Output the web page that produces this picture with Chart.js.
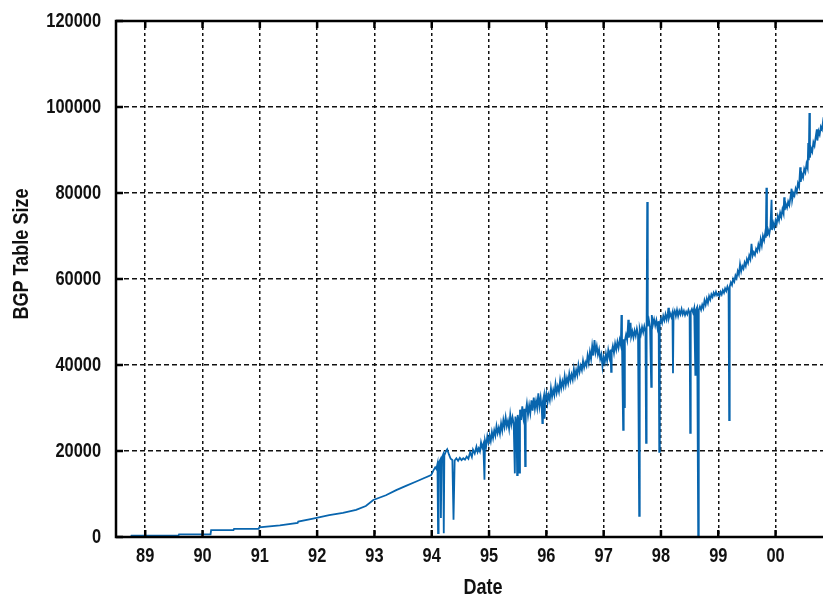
<!DOCTYPE html>
<html>
<head>
<meta charset="utf-8">
<title>BGP Table Size</title>
<script src="https://cdn.jsdelivr.net/npm/chart.js@4.4.1/dist/chart.umd.min.js"></script>
<style>
  html, body { margin: 0; padding: 0; background: #fff; overflow: hidden; }
  #wrap { width: 823px; height: 598px; overflow: hidden; }
</style>
</head>
<body>
<div id="wrap"><canvas id="bgp" width="836" height="598"></canvas></div>
<script>
// x axis in years (89 = 1989, 100 = 2000)
const yearTicks = [89, 90, 91, 92, 93, 94, 95, 96, 97, 98, 99, 100];
const yearLabels = ['89', '90', '91', '92', '93', '94', '95', '96', '97', '98', '99', '00'];
const sizeTicks = [0, 20000, 40000, 60000, 80000, 100000, 120000];

// dates (decimal years)
const dates = [
  88.49, 88.75, 88.76, 89.58, 89.59, 90.14, 90.15, 90.54, 90.55, 90.98,
  90.99, 91.35, 91.66, 91.67, 91.93, 92.21, 92.45, 92.68, 92.85, 92.98,
  93.20, 93.38, 93.55, 93.73, 93.85, 93.99, 94.03, 94.06, 94.08, 94.10,
  94.11, 94.12, 94.15, 94.16, 94.17, 94.20, 94.21, 94.22, 94.25, 94.27,
  94.30, 94.33, 94.36, 94.38,
  94.40, 94.43, 94.46, 94.49, 94.52, 94.55, 94.58, 94.61, 94.64, 94.67,
  94.70, 94.72, 94.75, 94.78, 94.80, 94.82, 94.84, 94.86, 94.88, 94.90,
  94.92, 94.93, 94.95, 94.97, 94.99, 95.01, 95.03, 95.05, 95.07, 95.09,
  95.11, 95.13, 95.15, 95.17, 95.19, 95.21, 95.23, 95.25, 95.27, 95.29,
  95.31, 95.33, 95.35, 95.37, 95.39, 95.41, 95.43, 95.45, 95.46, 95.48,
  95.49, 95.50, 95.52, 95.53, 95.54, 95.56, 95.58, 95.60, 95.62, 95.63,
  95.64, 95.66, 95.68, 95.70, 95.72, 95.74, 95.76, 95.78, 95.80, 95.82,
  95.84, 95.86, 95.88, 95.90, 95.92, 95.93, 95.94, 95.96, 95.97, 95.98,
  96.00, 96.02, 96.04, 96.06, 96.08, 96.10, 96.12, 96.14, 96.16, 96.18,
  96.20, 96.22, 96.24, 96.26, 96.28, 96.30, 96.32, 96.34, 96.36, 96.38,
  96.40, 96.42, 96.44, 96.46, 96.48, 96.50, 96.52, 96.54, 96.56, 96.58,
  96.60, 96.62, 96.64, 96.66, 96.68, 96.70, 96.72, 96.74, 96.76, 96.78,
  96.80, 96.82, 96.84, 96.86, 96.88, 96.90, 96.92, 96.94, 96.96, 96.98,
  97.00, 97.02, 97.04, 97.06, 97.08, 97.10, 97.12, 97.13, 97.14, 97.16,
  97.18, 97.20, 97.22, 97.24, 97.26, 97.28, 97.30, 97.31, 97.32, 97.34,
  97.35, 97.36, 97.37, 97.39, 97.41, 97.43, 97.44, 97.46, 97.47, 97.48,
  97.50, 97.52, 97.54, 97.56, 97.58, 97.60, 97.62, 97.63, 97.65, 97.67,
  97.69, 97.71, 97.73, 97.74, 97.75, 97.76, 97.77, 97.79, 97.81, 97.83,
  97.84, 97.86, 97.88, 97.90, 97.92, 97.94, 97.96, 97.97, 97.98, 98.00,
  98.02, 98.04, 98.06, 98.08, 98.10, 98.12, 98.13, 98.14, 98.16, 98.18,
  98.20, 98.21, 98.22, 98.24, 98.26, 98.28, 98.30, 98.32, 98.34, 98.36,
  98.38, 98.40, 98.42, 98.44, 98.46, 98.48, 98.50, 98.51, 98.52, 98.54,
  98.56, 98.58, 98.60, 98.61, 98.63, 98.65, 98.66, 98.68, 98.70, 98.72,
  98.74, 98.76, 98.78, 98.80, 98.82, 98.84, 98.86, 98.88, 98.90, 98.92,
  98.94, 98.96, 98.98, 99.00, 99.02, 99.04, 99.06, 99.08, 99.10, 99.12,
  99.14, 99.16, 99.18, 99.19, 99.20, 99.22, 99.24, 99.26, 99.28, 99.30,
  99.32, 99.34, 99.36, 99.38, 99.40, 99.42, 99.44, 99.46, 99.48, 99.50,
  99.52, 99.54, 99.56, 99.58, 99.60, 99.62, 99.64, 99.66, 99.68, 99.70,
  99.72, 99.74, 99.76, 99.78, 99.80, 99.82, 99.83, 99.84, 99.85, 99.87,
  99.89, 99.91, 99.93, 99.94, 99.96, 99.98, 100.00, 100.02, 100.04, 100.06,
  100.08, 100.10, 100.12, 100.14, 100.15, 100.16, 100.18, 100.20, 100.22, 100.24,
  100.26, 100.28, 100.29, 100.31, 100.33, 100.35, 100.37, 100.39, 100.41, 100.43,
  100.44, 100.46, 100.48, 100.50, 100.52, 100.54, 100.56, 100.57, 100.58, 100.59,
  100.60, 100.62, 100.64, 100.66, 100.68, 100.70, 100.72, 100.73, 100.75, 100.77,
  100.79, 100.81, 100.83, 100.85, 100.87
];

// BGP table size at each date
const tableSize = [
  0, 0, 300, 300, 600, 600, 1600, 1600, 1900, 1900,
  2250, 2700, 3300, 3600, 4300, 5100, 5600, 6300, 7200, 8600,
  9700, 10900, 11900, 12900, 13600, 14400, 15500, 16200, 15800, 17000,
  900, 17200, 18000, 4400, 18200, 19200, 900, 19000, 20000, 20400,
  19200, 18200, 17900, 4000,
  17800, 18300, 17700, 18400, 17900, 18300, 18000, 18700, 18200, 19700,
  18600, 20300, 19400, 21000, 19800, 20600, 19900, 22000, 20800, 21600,
  13300, 22400, 21200, 23400, 22000, 23600, 22300, 24400, 23000, 24800,
  23600, 25800, 24200, 25400, 24000, 26400, 24800, 27200, 25600, 27800,
  25800, 27000, 25200, 28400, 26200, 27800, 26400, 14800, 28000, 26600,
  14400, 28400, 26800, 15000, 29600, 27200, 30400, 27800, 29800, 16500,
  29000, 31000, 28400, 30600, 28800, 31800, 29400, 32400, 29800, 31600,
  30000, 33400, 30400, 32400, 29800, 26500, 31600, 33000, 27500, 32000,
  33400, 31200, 33000, 31800, 34600, 32600, 34200, 33000, 35600, 33600,
  35000, 33800, 36400, 34600, 36200, 35000, 37400, 35400, 37000, 35800,
  38000, 36400, 37800, 36600, 39000, 37200, 38800, 37600, 40000, 38400,
  39800, 38800, 41000, 39400, 40600, 39800, 42200, 40600, 43000, 41400,
  44400, 42200, 45800, 43000, 44400, 42400, 43600, 41400, 42400, 39600,
  41800, 40600, 42600, 41000, 43400, 41800, 43600, 38400, 43000, 44400,
  42800, 45000, 43600, 45400, 44000, 45800, 44600, 51600, 45400, 24900,
  46000, 30200, 45600, 47000, 45800, 50500, 46400, 47800, 49800, 46600,
  47800, 46400, 48000, 46800, 48400, 47000, 4900, 48400, 47200, 48800,
  47600, 49000, 47800, 21900, 50000, 77900, 49000, 50400, 48800, 34900,
  51600, 49400, 50600, 49200, 50400, 48600, 50200, 19800, 49600, 50800,
  49800, 51400, 50400, 51800, 50600, 52000, 53300, 51000, 52000, 51200,
  52200, 38100, 51800, 52600, 51400, 52800, 51400, 52600, 51800, 53000,
  51800, 52600, 51600, 52400, 51800, 52800, 52000, 24200, 52400, 53000,
  52200, 53200, 37700, 52800, 53400, 0, 52800, 53600, 52800, 54000,
  53200, 55000, 54000, 55400, 54400, 56000, 55200, 56400, 55800, 56800,
  56200, 57000, 56200, 56600, 56000, 57000, 56400, 57400, 56800, 57800,
  57200, 58200, 57400, 27200, 58200, 59200, 58600, 60000, 59400, 60800,
  60200, 61800, 61000, 63400, 61800, 63000, 62400, 63800, 63000, 64600,
  63800, 65400, 64600, 68200, 65400, 66200, 65600, 67000, 66400, 68000,
  67000, 69200, 67800, 70000, 69000, 70800, 69600, 81200, 70000, 71400,
  70400, 72000, 78400, 71400, 73000, 72000, 73600, 72800, 74600, 73600,
  75400, 74400, 76200, 75200, 79000, 76000, 77400, 76600, 78000, 77200,
  79000, 81000, 78400, 80000, 79400, 81000, 80200, 82200, 81400, 86000,
  82600, 84400, 83600, 85600, 84800, 86800, 85800, 91600, 87600, 98600,
  88200, 90400, 89600, 91800, 91000, 93000, 94800, 92200, 94400, 93600,
  95400, 94800, 96800, 96000, 97400
];

// no narrow sans is installed, so labels use Liberation Sans Bold squeezed sideways
function narrowText(ctx, text, x, y, size, align, rotate) {
  ctx.save();
  ctx.translate(x, y);
  if (rotate) ctx.rotate(-Math.PI / 2);
  ctx.scale(0.82, 1);
  ctx.font = 'bold ' + size + 'px "Liberation Sans", Arial, sans-serif';
  ctx.textAlign = align;
  ctx.textBaseline = 'middle';
  ctx.fillStyle = '#111';
  ctx.fillText(text, 0, 0);
  ctx.restore();
}

// solid frame with short inward tick marks, drawn over the line
const framePlugin = {
  id: 'frame',
  afterDatasetsDraw(chart) {
    const { ctx, chartArea: a, scales } = chart;
    const len = 7;
    ctx.save();
    ctx.strokeStyle = '#000';
    ctx.lineWidth = 2.5;
    ctx.strokeRect(a.left, a.top, a.right - a.left, a.bottom - a.top);
    ctx.beginPath();
    yearTicks.forEach(v => {
      const x = scales.x.getPixelForValue(v);
      ctx.moveTo(x, a.bottom); ctx.lineTo(x, a.bottom - len);
      ctx.moveTo(x, a.top); ctx.lineTo(x, a.top + len);
    });
    sizeTicks.forEach(v => {
      const y = scales.y.getPixelForValue(v);
      ctx.moveTo(a.left, y); ctx.lineTo(a.left + len, y);
      ctx.moveTo(a.right, y); ctx.lineTo(a.right - len, y);
    });
    ctx.stroke();
    ctx.restore();
  },
  afterDraw(chart) {
    const { ctx, chartArea: a, scales } = chart;
    yearTicks.forEach((v, i) => {
      narrowText(ctx, yearLabels[i], scales.x.getPixelForValue(v), a.bottom + 19, 20, 'center');
    });
    sizeTicks.forEach(v => {
      narrowText(ctx, String(v), a.left - 15, scales.y.getPixelForValue(v), 20, 'right');
    });
    narrowText(ctx, 'BGP Table Size', 22, 254, 22, 'center', true);
    narrowText(ctx, 'Date', 483, 588, 22, 'center');
  }
};

new Chart(document.getElementById('bgp'), {
  type: 'line',
  data: {
    datasets: [{
      data: dates.map((d, i) => ({ x: d, y: tableSize[i] })),
      borderColor: '#0865ae',
      borderWidth: 1.8,
      pointRadius: 0,
      tension: 0,
      fill: false
    }]
  },
  options: {
    responsive: false,
    animation: false,
    devicePixelRatio: 1,
    layout: { padding: { top: 21, right: 6, left: 0, bottom: 0 } },
    plugins: { legend: { display: false }, tooltip: { enabled: false } },
    scales: {
      x: {
        type: 'linear',
        min: 88.49,
        max: 100.95,
        afterBuildTicks: s => { s.ticks = yearTicks.map(v => ({ value: v })); },
        afterFit: s => { s.height = 61; },
        grid: { color: '#111', lineWidth: 1.5, drawTicks: false },
        border: { display: false, dash: [3, 3] },
        ticks: { display: false }
      },
      y: {
        min: 0,
        max: 120000,
        afterBuildTicks: s => { s.ticks = sizeTicks.map(v => ({ value: v })); },
        afterFit: s => { s.width = 116; },
        grid: { color: '#111', lineWidth: 1.5, drawTicks: false },
        border: { display: false, dash: [5, 3] },
        ticks: { display: false }
      }
    }
  },
  plugins: [framePlugin]
});
</script>
</body>
</html>
